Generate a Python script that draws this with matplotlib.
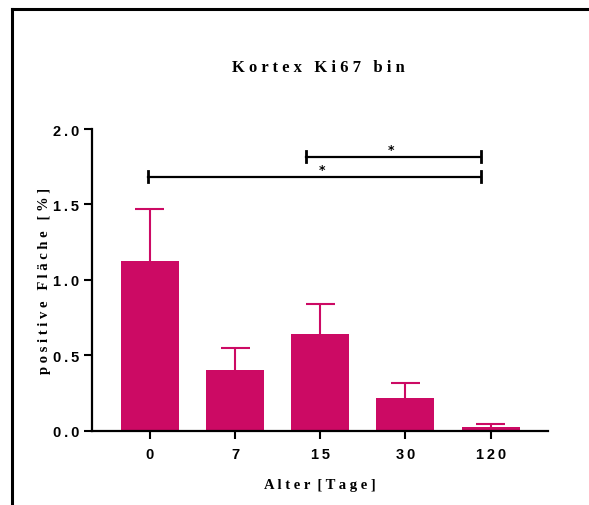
import numpy as np
import matplotlib.pyplot as plt
from matplotlib.lines import Line2D

ages = ['0', '7', '15', '30', '120']
means = [1.127, 0.403, 0.642, 0.217, 0.025]
sem = [0.346, 0.147, 0.198, 0.100, 0.020]
# significance brackets: (x start, x end, height)
brackets = [(1.83, 3.89, 1.817), (-0.02, 3.89, 1.685)]
star_x = [2.83, 2.02]

col = '#CC0A64'
spaced = lambda s, sep=' ': sep.join(s)

fig = plt.figure(figsize=(5.89, 5.06), dpi=100)
ax = fig.add_axes([0.156, 0.147, 0.774, 0.596])

x = np.arange(len(ages))
ax.bar(x, means, width=0.68, color=col, zorder=2)
tops = np.array(means) + np.array(sem)
ax.vlines(x, means, tops, color=col, lw=1.5, zorder=1)
ax.hlines(tops, x - 0.17, x + 0.17, color=col, lw=1.5, zorder=1)

for (x0, x1, h), sx in zip(brackets, star_x):
    ax.plot([x0, x1], [h, h], color='black', lw=1.6, clip_on=False)
    for xe in (x0, x1):
        ax.plot([xe, xe], [h - 0.035, h + 0.035], color='black', lw=2, clip_on=False)
    ax.text(sx, h + 0.005, '*', ha='center', va='bottom', fontsize=9, fontweight='bold')

ax.set_xlim(-0.68, 4.67)
ax.set_ylim(0, 2.0)
ax.set_xticks(x)
ax.set_xticklabels([spaced(a, '\u2009') for a in ages], fontfamily='Liberation Sans',
                   fontweight='bold', fontsize=10.5)
yt = [0.0, 0.5, 1.0, 1.5, 2.0]
ax.set_yticks(yt)
ax.set_yticklabels([spaced('%.1f' % v, '\u2009') for v in yt], fontfamily='Liberation Sans',
                   fontweight='bold', fontsize=10.5)
ax.tick_params(width=1.5, length=6)
ax.tick_params(axis='x', pad=6)
ax.tick_params(axis='y', pad=3)
for s in ['top', 'right']:
    ax.spines[s].set_visible(False)
for s in ['left', 'bottom']:
    ax.spines[s].set_linewidth(1.6)

ax.set_xlabel(spaced('Alter [Tage]').replace('   ', '  '), fontfamily='Liberation Serif',
              fontweight='bold', fontsize=10.5, labelpad=12)
ax.set_ylabel(spaced('positive Fläche [%]'), fontfamily='Liberation Serif',
              fontweight='bold', fontsize=10.5)
ax.yaxis.set_label_coords(-0.09, 0.5)
fig.text(0.54, 0.865, spaced('Kortex Ki67 bin'), ha='center', va='center',
         fontfamily='Liberation Serif', fontweight='bold', fontsize=12)

# screenshot frame lines
fig.add_artist(Line2D([0.021, 1.0], [0.981, 0.981], color='black', lw=2.2))
fig.add_artist(Line2D([0.021, 0.021], [0.0, 0.981], color='black', lw=2.2))

fig.savefig('out.png', dpi=100)
